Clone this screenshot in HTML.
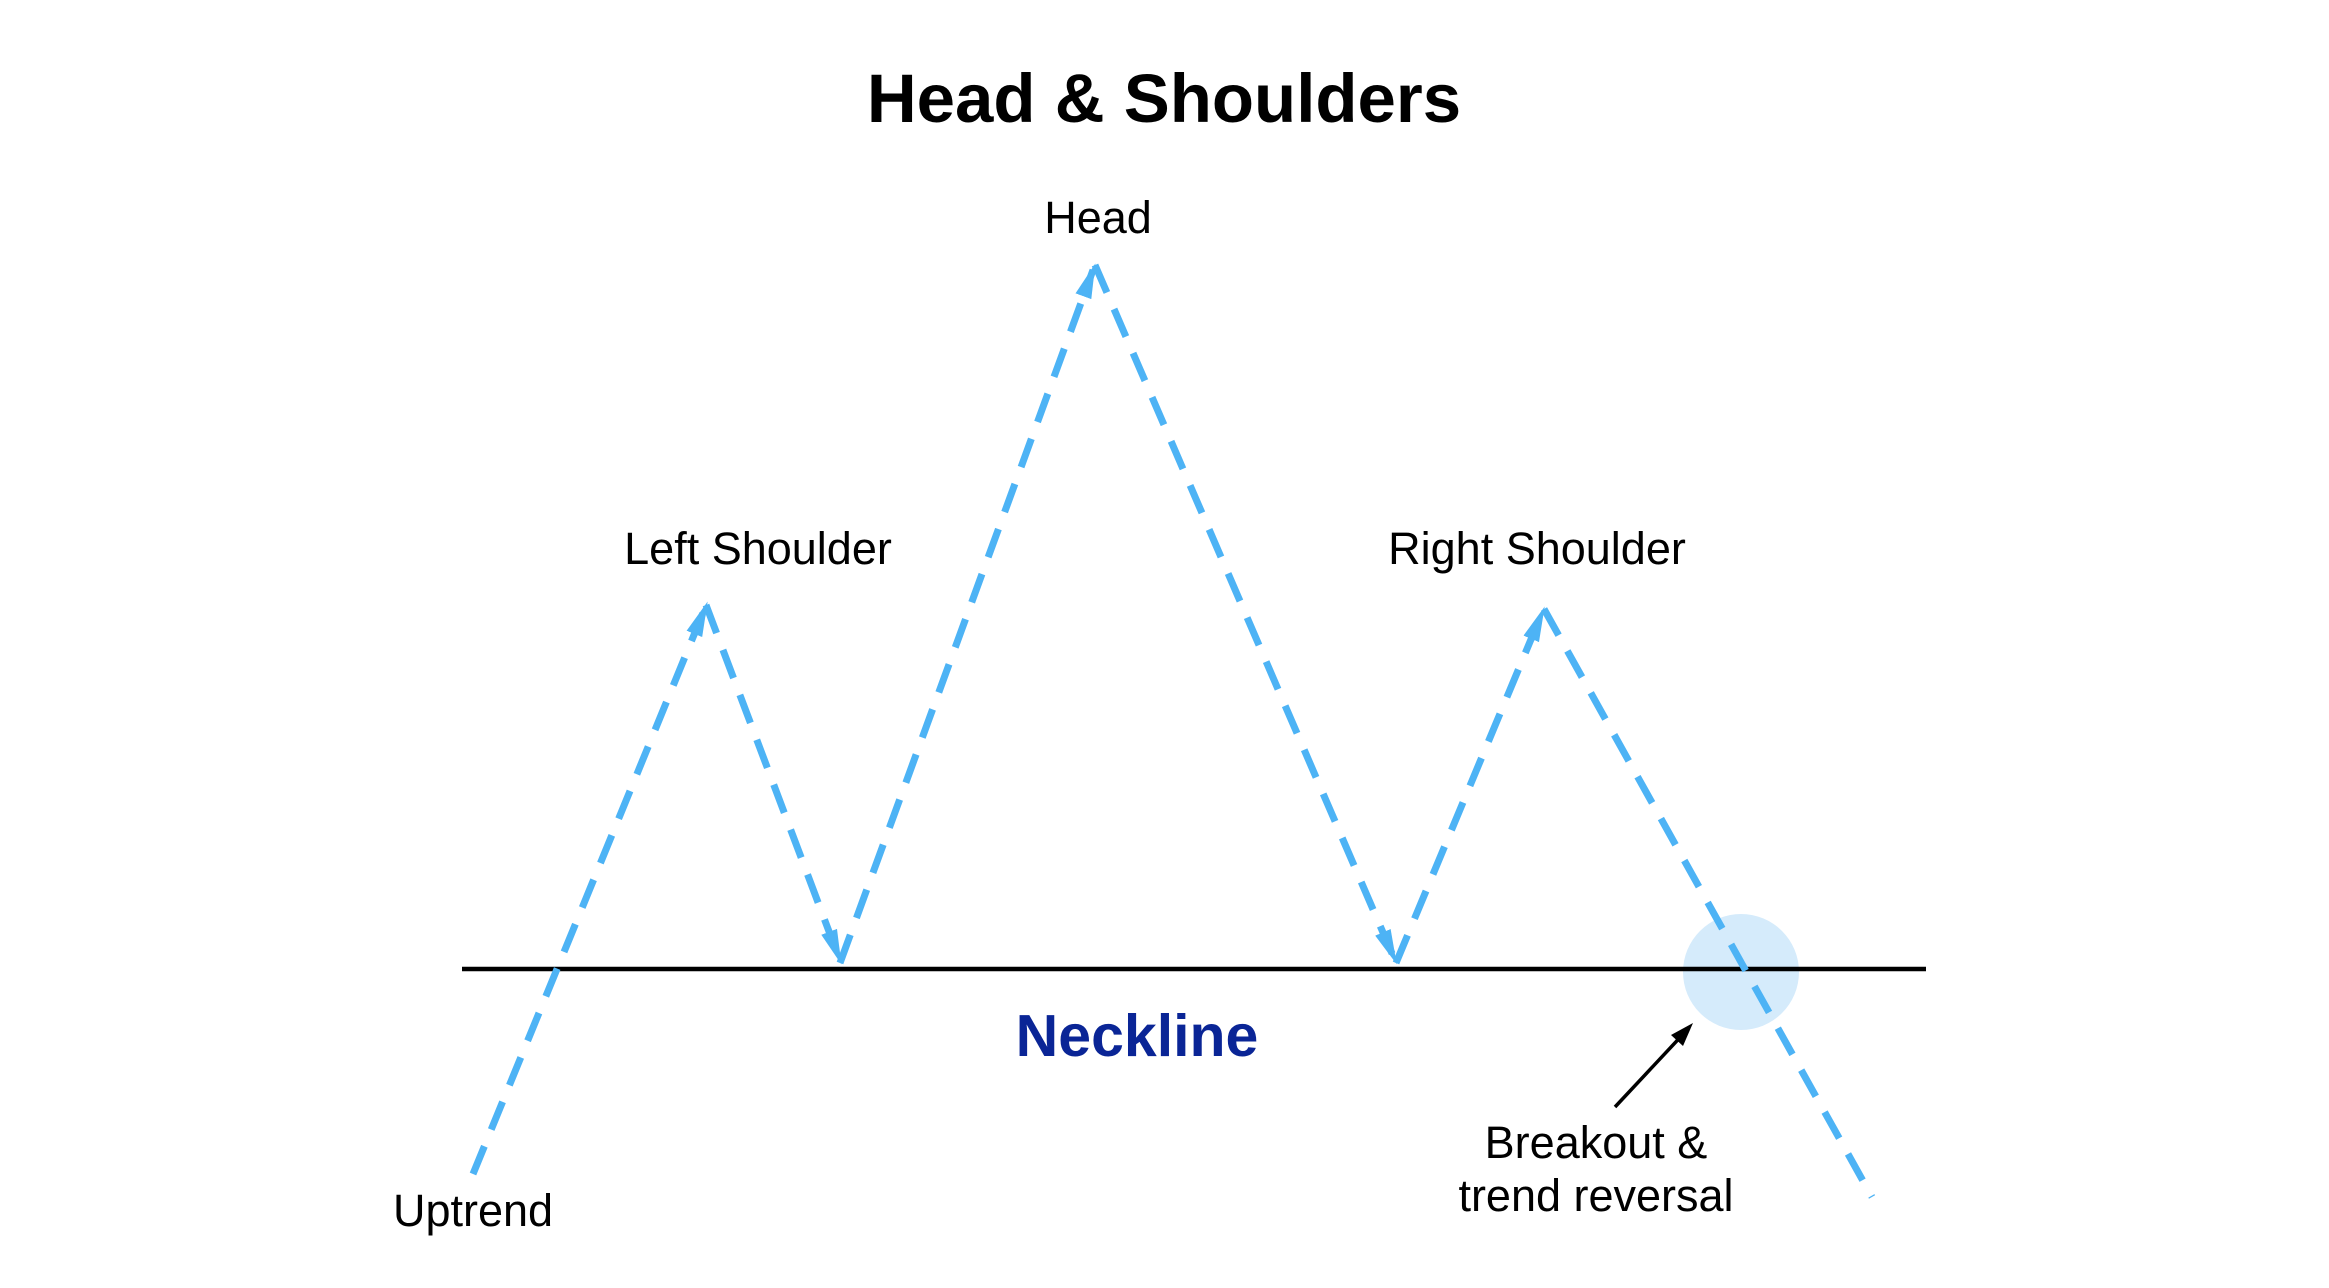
<!DOCTYPE html>
<html><head><meta charset="utf-8"><style>
html,body{margin:0;padding:0;background:#fff;}
svg{display:block;}
text{font-family:"Liberation Sans",sans-serif;}
</style></head><body>
<svg width="2329" height="1288" viewBox="0 0 2329 1288" xmlns="http://www.w3.org/2000/svg">
<defs>
<marker id="a" markerWidth="5" markerHeight="4" refX="4" refY="2" orient="auto" markerUnits="strokeWidth">
<path d="M0,0.8 L5,2 L0,3.2 Z" fill="#4db3f5"/></marker>
</defs>
<rect width="2329" height="1288" fill="#fff"/>
<circle cx="1741" cy="972" r="58" fill="#d5ebfb"/>
<line x1="462" y1="969" x2="1926" y2="969" stroke="#000" stroke-width="4.5"/>
<g stroke="#4db3f5" stroke-width="7" stroke-dasharray="30 18" fill="none">
<line x1="473" y1="1174" x2="705" y2="608" marker-end="url(#a)"/>
<line x1="706" y1="605" x2="839" y2="958" marker-end="url(#a)"/>
<line x1="840" y1="963" x2="1093" y2="270" marker-end="url(#a)"/>
<line x1="1095" y1="265" x2="1394" y2="958" marker-end="url(#a)"/>
<line x1="1396" y1="963" x2="1542" y2="613" marker-end="url(#a)"/>
<line x1="1544" y1="609" x2="1872" y2="1197"/>
</g>
<line x1="1615" y1="1107" x2="1687" y2="1030" stroke="#000" stroke-width="3.5"/>
<path d="M1693,1023 L1671,1035 L1683,1046 Z" fill="#000"/>
<text x="1164" y="122" font-size="69" font-weight="bold" text-anchor="middle">Head &amp; Shoulders</text>
<text x="1098" y="233" font-size="45" text-anchor="middle">Head</text>
<text x="758" y="564" font-size="45" text-anchor="middle">Left Shoulder</text>
<text x="1537" y="564" font-size="45" text-anchor="middle">Right Shoulder</text>
<text x="473" y="1226" font-size="45" text-anchor="middle">Uptrend</text>
<text x="1596" y="1158" font-size="45" text-anchor="middle">Breakout &amp;</text>
<text x="1596" y="1211" font-size="45" text-anchor="middle">trend reversal</text>
<text x="1137" y="1056" font-size="59" font-weight="bold" fill="#0a2596" text-anchor="middle">Neckline</text>
</svg>
</body></html>
